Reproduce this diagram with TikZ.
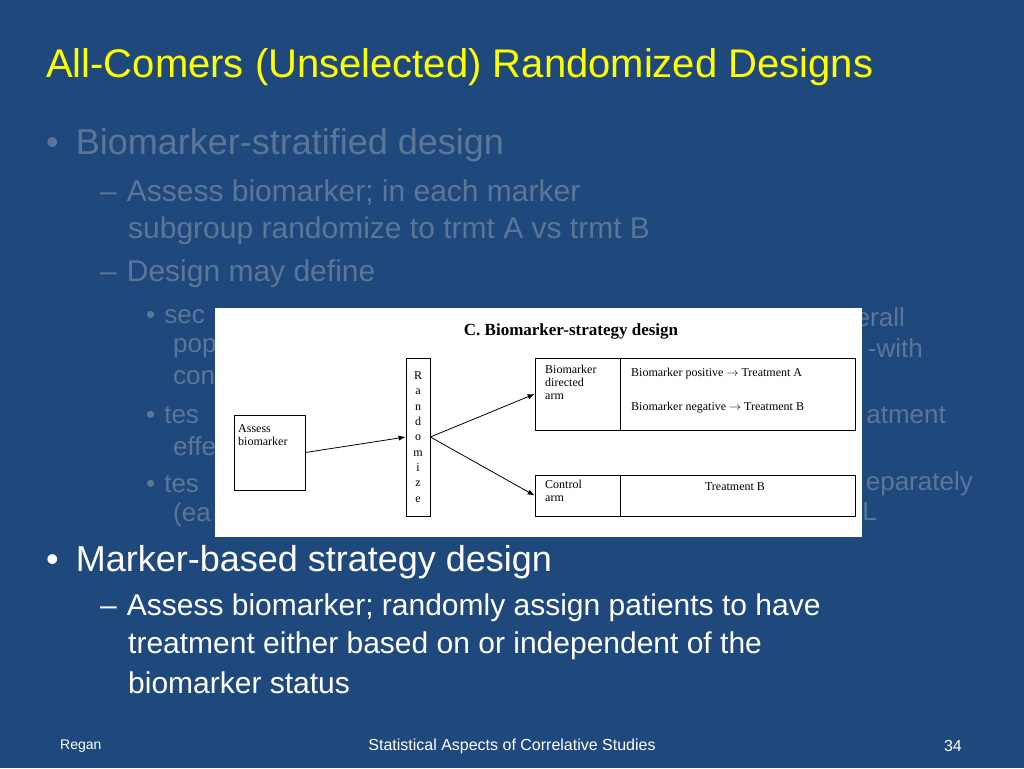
\documentclass[tikz,border=0pt]{standalone}
\usepackage{fontspec}
\setmainfont{Liberation Sans}
\newfontfamily\insetfont{Liberation Serif}
\usepackage{tikz}
\usetikzlibrary{arrows, arrows.meta}
\definecolor{slidebg}{RGB}{31,73,125}
\definecolor{dimtext}{RGB}{92,118,152}
\definecolor{titleyellow}{RGB}{255,255,0}
\tikzset{
    dimline/.style={anchor=west, text=dimtext, inner sep=0pt},
    liveline/.style={anchor=west, text=white, inner sep=0pt},
    insetbox/.style={draw=black, line width=0.8pt},
    insettext/.style={font=\insetfont\fontsize{12}{13}\selectfont, text=black, align=left, inner sep=0pt},
    footer/.style={text=white, font=\fontsize{14}{16}\selectfont, inner sep=0pt}
}
\begin{document}
\begin{tikzpicture}[x=1pt,y=-1pt]
        \fill[slidebg] (0,0) rectangle (1024,768);
        \useasboundingbox (0,0) rectangle (1024,768);
        % title
        \node[anchor=west, text=titleyellow, inner sep=0pt, font=\fontsize{40}{44}\selectfont] (title) at (46,67) {All-Comers (Unselected) Randomized Designs};
        % first block, greyed out
        \node[dimline, font=\fontsize{36}{40}\selectfont] (b1) at (46,145) {\textbullet\hspace{17pt}Biomarker-stratified design};
        \node[dimline, font=\fontsize{30}{34}\selectfont] (b1a) at (100,193) {--\hspace{10pt}Assess biomarker; in each marker};
        \node[dimline, font=\fontsize{30}{34}\selectfont] (b1b) at (128,231) {subgroup randomize to trmt A vs trmt B};
        \node[dimline, font=\fontsize{30}{34}\selectfont] (b1c) at (100,274) {--\hspace{10pt}Design may define};
        \node[dimline, font=\fontsize{26}{30}\selectfont] (s1) at (146,317) {\textbullet\hspace{9pt}sec};
        \node[dimline, font=\fontsize{26}{30}\selectfont] (s2) at (173,348) {pop};
        \node[dimline, font=\fontsize{26}{30}\selectfont] (s3) at (173,378) {con};
        \node[dimline, font=\fontsize{26}{30}\selectfont] (s4) at (146,415) {\textbullet\hspace{9pt}tes};
        \node[dimline, font=\fontsize{26}{30}\selectfont] (s5) at (173,446) {effe};
        \node[dimline, font=\fontsize{26}{30}\selectfont] (s6) at (146,484) {\textbullet\hspace{9pt}tes};
        \node[dimline, font=\fontsize{26}{30}\selectfont] (s7) at (173,515) {(ea};
        \node[dimline, anchor=east, font=\fontsize{26}{30}\selectfont] (r1) at (905,317) {erall};
        \node[dimline, anchor=east, font=\fontsize{26}{30}\selectfont] (r2) at (923,348) {-with};
        \node[dimline, anchor=east, font=\fontsize{26}{30}\selectfont] (r4) at (946,415) {atment};
        \node[dimline, anchor=east, font=\fontsize{26}{30}\selectfont] (r6) at (973,484) {eparately};
        \node[dimline, anchor=east, font=\fontsize{26}{30}\selectfont] (r7) at (877,512) {L};
        % inset figure
        \fill[white] (215,308) rectangle (862,537);
        \node[insettext, font=\insetfont\bfseries\fontsize{17}{19}\selectfont] (ctitle) at (571,331) {C. Biomarker-strategy design};
        \node[insetbox, minimum width=71pt, minimum height=75pt] (assess) at (269.5,452.5) {};
        \node[insettext, anchor=north west] at (238,424) {Assess\\biomarker};
        \node[insetbox, minimum width=24pt, minimum height=158pt] (rand) at (418,437) {};
        \node[insettext, align=center, font=\insetfont\fontsize{12}{15.3}\selectfont] at (rand) {R\\a\\n\\d\\o\\m\\i\\z\\e};
        \node[insetbox, minimum width=320pt, minimum height=72pt] (arm1) at (695,394) {};
        \draw[line width=0.8pt] (620,358) -- (620,430);
        \node[insettext, anchor=north west] at (545,365) {Biomarker\\directed\\arm};
        \node[insettext, anchor=west] at (631,374) {Biomarker positive $\rightarrow$ Treatment A};
        \node[insettext, anchor=west] at (631,408) {Biomarker negative $\rightarrow$ Treatment B};
        \node[insetbox, minimum width=320pt, minimum height=41pt] (arm2) at (695,495.5) {};
        \draw[line width=0.8pt] (620,475) -- (620,516);
        \node[insettext, anchor=north west] at (545,480) {Control\\arm};
        \node[insettext] at (735,487) {Treatment B};
        \draw[line width=0.8pt,-{Latex[length=7pt]}] (assess.east) -- (rand.west);
        \coordinate (split) at (rand.east);
        \draw[line width=0.8pt,-{Latex[length=7pt]}] (split) -- (arm1.west);
        \draw[line width=0.8pt,-{Latex[length=7pt]}] (split) -- (arm2.west);
        % second block
        \node[liveline, font=\fontsize{36}{40}\selectfont] (b2) at (46,562) {\textbullet\hspace{17pt}Marker-based strategy design};
        \node[liveline, font=\fontsize{30}{34}\selectfont] (b2a) at (100,608) {--\hspace{10pt}Assess biomarker; randomly assign patients to have};
        \node[liveline, font=\fontsize{30}{34}\selectfont] (b2b) at (128,646) {treatment either based on or independent of the};
        \node[liveline, font=\fontsize{30}{34}\selectfont] (b2c) at (128,683) {biomarker status};
        % footer
        \node[footer, anchor=west] (fl) at (60,746) {Regan};
        \node[footer, font=\fontsize{16}{18}\selectfont] (fc) at (512,746) {Statistical Aspects of Correlative Studies};
        \node[footer, anchor=east, font=\fontsize{16}{18}\selectfont] (fr) at (962,746) {34};
    \end{tikzpicture}
\end{document}
